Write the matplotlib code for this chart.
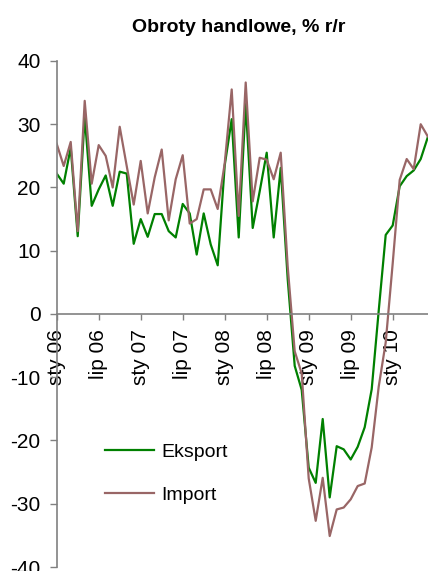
import matplotlib.pyplot as plt

plt.rcParams['font.family'] = ['Liberation Sans', 'DejaVu Sans']
plt.rcParams['axes.unicode_minus'] = False

# monthly y/y growth, Jan 2006 - Jun 2010
eksport = [22.2, 20.6, 26.3, 12.3, 31.3, 17.1, 19.7, 21.9, 17.1, 22.5, 22.2, 11.1,
           15.0, 12.2, 15.8, 15.8, 13.1, 12.1, 17.4, 15.9, 9.4, 15.9, 11.0, 7.7,
           23.5, 30.8, 12.1, 33.2, 13.6, 19.4, 25.5, 12.1, 23.1, 5.5, -8.2, -12.0,
           -24.3, -26.7, -16.6, -29.0, -20.9, -21.4, -23.0, -21.0, -17.9, -11.9, 0.5, 12.5,
           14.0, 20.2, 21.8, 22.7, 24.5, 27.9]
import_ = [26.9, 23.4, 27.2, 13.1, 33.7, 20.6, 26.7, 25.0, 20.0, 29.6, 23.4, 17.3,
           24.2, 15.9, 21.6, 26.0, 14.8, 21.3, 25.1, 14.3, 15.0, 19.7, 19.7, 16.6,
           23.8, 35.5, 15.5, 36.6, 17.8, 24.7, 24.4, 21.3, 25.5, 7.5, -5.9, -9.4,
           -26.0, -32.7, -25.9, -35.1, -30.9, -30.6, -29.3, -27.2, -26.8, -21.1, -11.5, -4.5,
           8.0, 21.2, 24.5, 22.9, 30.0, 28.1]
tick_labels = ['sty 06', 'lip 06', 'sty 07', 'lip 07', 'sty 08',
               'lip 08', 'sty 09', 'lip 09', 'sty 10']

months = list(range(len(eksport)))

fig = plt.figure(figsize=(4.28, 5.71), dpi=100)
ax = fig.add_axes([0.1325, 0.007, 0.8668, 0.8862])

ax.plot(months, eksport, color='#008000', lw=1.6, label='Eksport')
ax.plot(months, import_, color='#996666', lw=1.6, label='Import')

for s in ['top', 'right']:
    ax.spines[s].set_visible(False)
ax.spines['bottom'].set_position(('data', 0))
for s in ['bottom', 'left']:
    ax.spines[s].set_color('#808080')
    ax.spines[s].set_linewidth(1.2)

ax.set_xlim(0, len(months) - 1)
ax.set_ylim(-40, 40)
ax.set_yticks(range(-40, 41, 10))
ax.set_xticks(range(0, len(months), 6))
ax.set_xticklabels(tick_labels)

ax.tick_params(axis='y', direction='out', length=5, width=1, color='#808080',
               labelsize=15, pad=6.5)
ax.tick_params(axis='x', direction='out', length=4, width=1, color='#808080',
               labelsize=15, pad=7, labelrotation=90)

fig.text(0.558, 0.944, 'Obroty handlowe, % r/r', ha='center', va='baseline',
         fontsize=14, fontweight='bold')

ax.legend(loc='center left', bbox_to_anchor=(0.205, 0.17),
          bbox_transform=fig.transFigure, frameon=False, fontsize=14,
          handlelength=2.5, handletextpad=0.4, labelspacing=1.3)

fig.savefig('out.png', dpi=100)
